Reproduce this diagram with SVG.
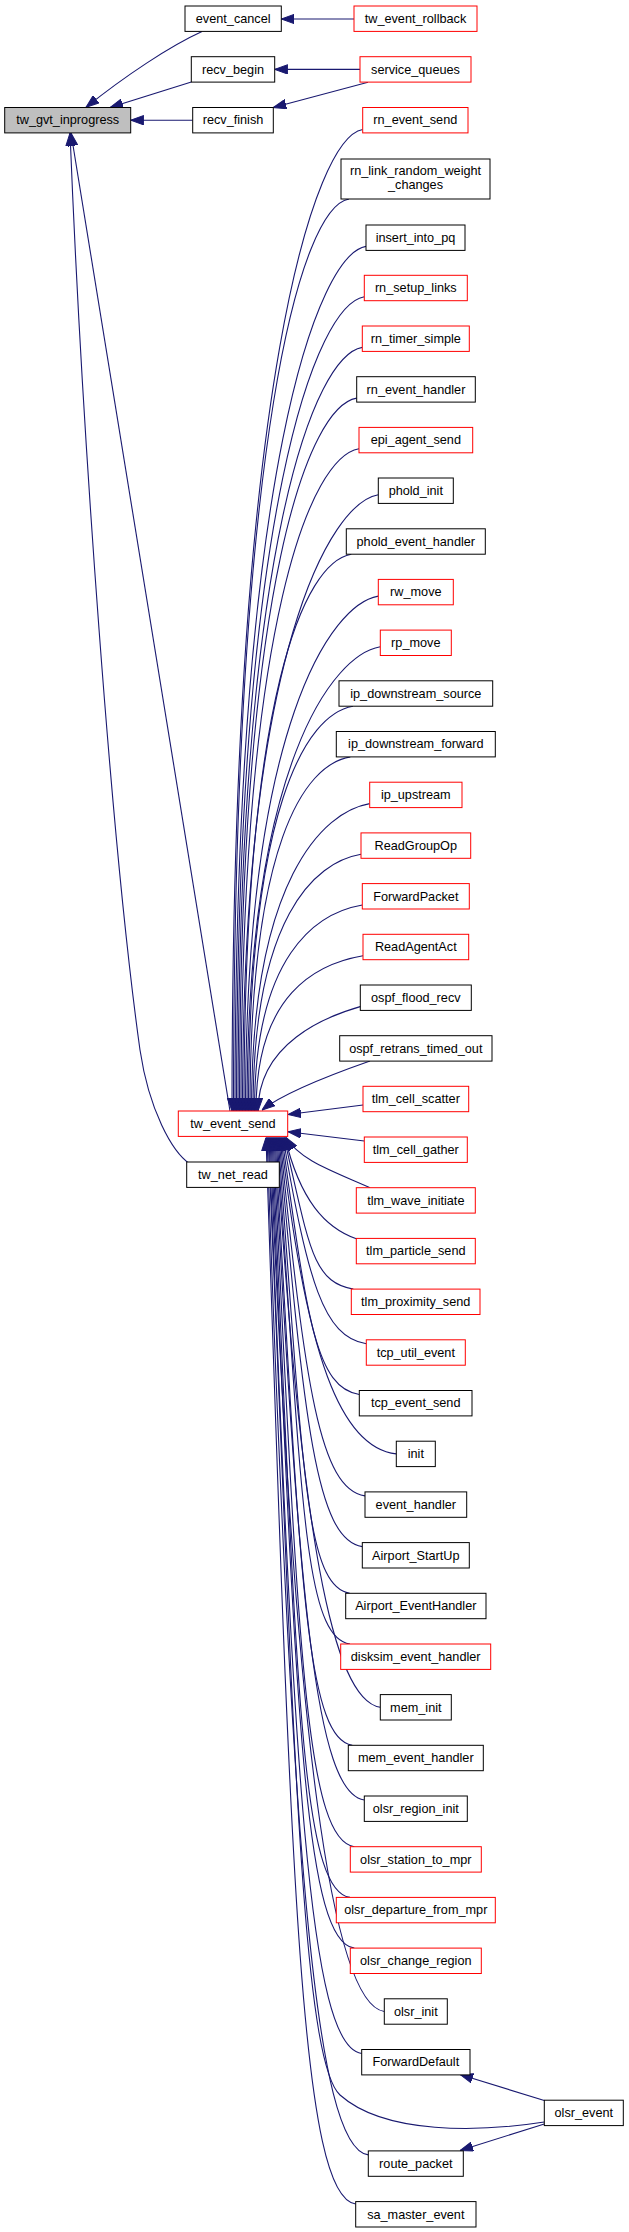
<svg xmlns="http://www.w3.org/2000/svg" width="629" height="2232" viewBox="0 0 629 2232">
<style>
.nd rect{fill:#fff;stroke:#000;stroke-width:1}
.nd.red rect{stroke:#ff0000}
.nd.cur rect{fill:#bfbfbf}
.nd text{font-family:"Liberation Sans",Arial,Helvetica,sans-serif;font-size:12.7px;fill:#000;text-anchor:middle}
.e path{fill:none;stroke:#191970;stroke-width:1.1;marker-end:url(#ah)}
</style>
<defs>
<marker id="ah" viewBox="0 0 13 10" refX="13" refY="5" markerWidth="13" markerHeight="10" markerUnits="userSpaceOnUse" orient="auto">
<path d="M0,0.3 L13,5 L0,9.7 Z" fill="#191970" stroke="#191970" stroke-width="1"/>
</marker>
</defs>
<rect width="629" height="2232" fill="#fff"/>
<g id="edges" class="e">
<path d="M354,19 L281.3,19"/>
<path d="M360,69.4 L274.7,69.4"/>
<path d="M368,82.3 L273.3,107.5"/>
<path d="M202,31.5 C170,46 125,76 86,107.3"/>
<path d="M191.3,82 L110,107.5"/>
<path d="M192.7,120.2 L130.7,120.2"/>
<path d="M230,1111 L71,133"/>
<path d="M190,1164 C172,1152 149,1110 140,1050 C112,850 82,433 70,133"/>
<path d="M362.7,129.5 C315.7,137.5 232,374.9 232,1111"/>
<path d="M349,199 C302,207 233.5,427 233.5,1111"/>
<path d="M366,246.4 C319,254.4 235,462.6 235,1111"/>
<path d="M364.3,296.7 C317.3,304.7 236.5,500.3 236.5,1111"/>
<path d="M362.3,347.4 C315.3,355.4 238,538.3 238,1111"/>
<path d="M356.7,398.1 C309.7,406.1 239.5,576.3 239.5,1111"/>
<path d="M359,448.8 C312,456.8 241,614.4 241,1111"/>
<path d="M378.3,494.7 C331.3,502.7 242.5,648.8 242.5,1111"/>
<path d="M351.3,554.2 C304.3,562.2 244,693.4 244,1111"/>
<path d="M378.3,596.1 C331.3,604.1 245.5,724.8 245.5,1111"/>
<path d="M380.3,646.8 C333.3,654.8 247,762.8 247,1111"/>
<path d="M353,706.2 C306,714.2 248.5,807.4 248.5,1111"/>
<path d="M350.3,756.9 C303.3,764.9 250,845.4 250,1111"/>
<path d="M369.7,803.6 C322.7,811.6 251.5,880.5 251.5,1111"/>
<path d="M361,854.3 C314,862.3 253,918.5 253,1111"/>
<path d="M362.3,905 C315.3,913 254.5,956.5 254.5,1111"/>
<path d="M363,955.7 C316,963.7 256,994.5 256,1111"/>
<path d="M361,1006.4 C326,1016.4 258,1043 258,1111"/>
<path d="M370,1061 C330,1075 285,1092 262,1110"/>
<path d="M363,1105 L288,1114.5"/>
<path d="M364.3,1141 L288,1131.7"/>
<path d="M370,1187.7 C330,1170 300,1160 286,1137.5"/>
<path d="M357,1239 C325,1228 300,1200 285,1137.5"/>
<path d="M353.3,1289.1 C311.3,1282.1 309,1243.5 284,1137.5"/>
<path d="M366.3,1343.8 C323.3,1336.8 308,1281.7 283,1137.5"/>
<path d="M359.3,1394.5 C315.3,1387.5 307,1317.4 282,1137.5"/>
<path d="M396.3,1453.9 C341.3,1448 306,1358.8 281,1137.5"/>
<path d="M365,1495.9 C320,1488.9 305,1388.2 280,1137.5"/>
<path d="M362.3,1546.6 C316.3,1539.6 304,1423.6 279,1137.5"/>
<path d="M349.7,1593.3 C303.7,1586.3 303,1456.5 278,1137.5"/>
<path d="M350,1644 C303,1637 302,1491.9 277,1137.5"/>
<path d="M380.3,1707.3 C332.3,1700.3 301,1536.2 276,1137.5"/>
<path d="M352.3,1745.3 C304.3,1738.3 300,1562.9 275,1137.5"/>
<path d="M364.3,1800 C315.3,1793 299,1601.1 274,1137.5"/>
<path d="M354.3,1846.7 C304.3,1839.7 298,1633.7 273,1137.5"/>
<path d="M350,1897.4 C299,1890.4 297,1669.4 272,1137.5"/>
<path d="M354.3,1948.1 C303.3,1941.1 296,1704.8 271,1137.5"/>
<path d="M384.3,2011.5 C332.3,2004.5 295,1749.3 270,1137.5"/>
<path d="M361.7,2053.5 C308.7,2046.5 294,1778.7 269,1137.5"/>
<path d="M544.3,2122 C480,2132 385,2135 340,2095 C300,2059 293,1700 268,1137.5"/>
<path d="M368.3,2154.9 C314.3,2147.9 292,1849.5 267,1137.5"/>
<path d="M355.7,2204 C300.7,2197 291,1884 266,1137.5"/>
<path d="M544.3,2100.5 L460,2074.5"/>
<path d="M544.3,2124 L460,2150.5"/>
</g>
<g id="tw_gvt_inprogress" class="nd cur"><rect x="4.7" y="107.5" width="126" height="25.4"/><text x="67.7" y="124.4">tw_gvt_inprogress</text></g>
<g id="event_cancel" class="nd"><rect x="185" y="6" width="96.3" height="25.4"/><text x="233.2" y="22.9">event_cancel</text></g>
<g id="recv_begin" class="nd"><rect x="191.3" y="56.7" width="83.4" height="25.4"/><text x="233" y="73.6">recv_begin</text></g>
<g id="recv_finish" class="nd"><rect x="192.7" y="107.5" width="80.6" height="25.4"/><text x="233" y="124.4">recv_finish</text></g>
<g id="tw_event_rollback" class="nd red"><rect x="354" y="6" width="123" height="25.4"/><text x="415.5" y="22.9">tw_event_rollback</text></g>
<g id="service_queues" class="nd red"><rect x="360" y="56.7" width="111" height="25.4"/><text x="415.5" y="73.6">service_queues</text></g>
<g id="tw_event_send" class="nd red"><rect x="178.3" y="1111" width="109.4" height="25.4"/><text x="233" y="1127.9">tw_event_send</text></g>
<g id="tw_net_read" class="nd"><rect x="186.7" y="1162" width="92.6" height="25.4"/><text x="233" y="1178.9">tw_net_read</text></g>
<g id="rn_event_send" class="nd red"><rect x="362.7" y="107.5" width="105.3" height="25.4"/><text x="415.3" y="124.4">rn_event_send</text></g>
<g id="rn_link_random_weight_changes" class="nd"><rect x="341" y="159" width="149" height="40"/><text x="415.5" y="174.5">rn_link_random_weight</text><text x="415.5" y="188.5">_changes</text></g>
<g id="insert_into_pq" class="nd"><rect x="366" y="225" width="99" height="25.4"/><text x="415.5" y="241.9">insert_into_pq</text></g>
<g id="rn_setup_links" class="nd red"><rect x="364.3" y="275.3" width="103" height="25.4"/><text x="415.8" y="292.2">rn_setup_links</text></g>
<g id="rn_timer_simple" class="nd red"><rect x="362.3" y="326" width="107" height="25.4"/><text x="415.8" y="342.9">rn_timer_simple</text></g>
<g id="rn_event_handler" class="nd"><rect x="356.7" y="376.7" width="118.6" height="25.4"/><text x="416" y="393.6">rn_event_handler</text></g>
<g id="epi_agent_send" class="nd red"><rect x="359" y="427.4" width="113.7" height="25.4"/><text x="415.8" y="444.3">epi_agent_send</text></g>
<g id="phold_init" class="nd"><rect x="378.3" y="478" width="75" height="25.4"/><text x="415.8" y="494.9">phold_init</text></g>
<g id="phold_event_handler" class="nd"><rect x="346.3" y="528.8" width="139" height="25.4"/><text x="415.8" y="545.7">phold_event_handler</text></g>
<g id="rw_move" class="nd red"><rect x="378.3" y="579.4" width="75" height="25.4"/><text x="415.8" y="596.3">rw_move</text></g>
<g id="rp_move" class="nd red"><rect x="380.3" y="630.1" width="71" height="25.4"/><text x="415.8" y="647">rp_move</text></g>
<g id="ip_downstream_source" class="nd"><rect x="339" y="680.8" width="153.7" height="25.4"/><text x="415.8" y="697.7">ip_downstream_source</text></g>
<g id="ip_downstream_forward" class="nd"><rect x="336.3" y="731.5" width="159" height="25.4"/><text x="415.8" y="748.4">ip_downstream_forward</text></g>
<g id="ip_upstream" class="nd red"><rect x="369.7" y="782.2" width="92.3" height="25.4"/><text x="415.8" y="799.1">ip_upstream</text></g>
<g id="ReadGroupOp" class="nd red"><rect x="361" y="832.9" width="109.7" height="25.4"/><text x="415.8" y="849.8">ReadGroupOp</text></g>
<g id="ForwardPacket" class="nd red"><rect x="362.3" y="883.6" width="107" height="25.4"/><text x="415.8" y="900.5">ForwardPacket</text></g>
<g id="ReadAgentAct" class="nd red"><rect x="363" y="934.3" width="105.7" height="25.4"/><text x="415.8" y="951.2">ReadAgentAct</text></g>
<g id="ospf_flood_recv" class="nd"><rect x="360.3" y="985" width="111" height="25.4"/><text x="415.8" y="1001.9">ospf_flood_recv</text></g>
<g id="ospf_retrans_timed_out" class="nd"><rect x="339.7" y="1035.7" width="152.3" height="25.4"/><text x="415.8" y="1052.6">ospf_retrans_timed_out</text></g>
<g id="tlm_cell_scatter" class="nd red"><rect x="363" y="1086.3" width="105.7" height="25.4"/><text x="415.8" y="1103.2">tlm_cell_scatter</text></g>
<g id="tlm_cell_gather" class="nd red"><rect x="364.3" y="1137" width="103" height="25.4"/><text x="415.8" y="1153.9">tlm_cell_gather</text></g>
<g id="tlm_wave_initiate" class="nd red"><rect x="356.3" y="1187.7" width="119" height="25.4"/><text x="415.8" y="1204.6">tlm_wave_initiate</text></g>
<g id="tlm_particle_send" class="nd red"><rect x="356.3" y="1238.4" width="119" height="25.4"/><text x="415.8" y="1255.3">tlm_particle_send</text></g>
<g id="tlm_proximity_send" class="nd red"><rect x="351.3" y="1289.1" width="128.7" height="25.4"/><text x="415.7" y="1306">tlm_proximity_send</text></g>
<g id="tcp_util_event" class="nd red"><rect x="366.3" y="1339.8" width="99" height="25.4"/><text x="415.8" y="1356.7">tcp_util_event</text></g>
<g id="tcp_event_send" class="nd"><rect x="359.3" y="1390.5" width="112.7" height="25.4"/><text x="415.7" y="1407.4">tcp_event_send</text></g>
<g id="init" class="nd"><rect x="396.3" y="1441.2" width="39" height="25.4"/><text x="415.8" y="1458.1">init</text></g>
<g id="event_handler" class="nd"><rect x="365" y="1491.9" width="101.7" height="25.4"/><text x="415.8" y="1508.8">event_handler</text></g>
<g id="Airport_StartUp" class="nd"><rect x="362.3" y="1542.6" width="107" height="25.4"/><text x="415.8" y="1559.5">Airport_StartUp</text></g>
<g id="Airport_EventHandler" class="nd"><rect x="345.7" y="1593.3" width="140.3" height="25.4"/><text x="415.8" y="1610.2">Airport_EventHandler</text></g>
<g id="disksim_event_handler" class="nd red"><rect x="340.7" y="1644" width="150" height="25.4"/><text x="415.7" y="1660.9">disksim_event_handler</text></g>
<g id="mem_init" class="nd"><rect x="380.3" y="1694.6" width="71" height="25.4"/><text x="415.8" y="1711.5">mem_init</text></g>
<g id="mem_event_handler" class="nd"><rect x="348.3" y="1745.3" width="135" height="25.4"/><text x="415.8" y="1762.2">mem_event_handler</text></g>
<g id="olsr_region_init" class="nd"><rect x="364.3" y="1796" width="103" height="25.4"/><text x="415.8" y="1812.9">olsr_region_init</text></g>
<g id="olsr_station_to_mpr" class="nd red"><rect x="350.3" y="1846.7" width="131" height="25.4"/><text x="415.8" y="1863.6">olsr_station_to_mpr</text></g>
<g id="olsr_departure_from_mpr" class="nd red"><rect x="336.3" y="1897.4" width="159" height="25.4"/><text x="415.8" y="1914.3">olsr_departure_from_mpr</text></g>
<g id="olsr_change_region" class="nd red"><rect x="350.3" y="1948.1" width="131" height="25.4"/><text x="415.8" y="1965">olsr_change_region</text></g>
<g id="olsr_init" class="nd"><rect x="384.3" y="1998.8" width="63" height="25.4"/><text x="415.8" y="2015.7">olsr_init</text></g>
<g id="ForwardDefault" class="nd"><rect x="361.7" y="2049.5" width="108.3" height="25.4"/><text x="415.8" y="2066.4">ForwardDefault</text></g>
<g id="olsr_event" class="nd"><rect x="544.3" y="2100.2" width="79" height="25.4"/><text x="583.8" y="2117.1">olsr_event</text></g>
<g id="route_packet" class="nd"><rect x="368.3" y="2150.9" width="95" height="25.4"/><text x="415.8" y="2167.8">route_packet</text></g>
<g id="sa_master_event" class="nd"><rect x="355.7" y="2201.6" width="120.3" height="25.4"/><text x="415.8" y="2218.5">sa_master_event</text></g>
</svg>
